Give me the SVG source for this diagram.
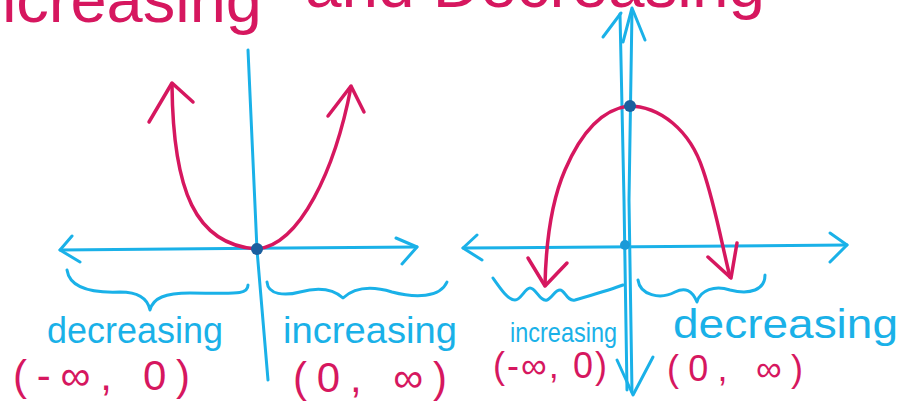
<svg xmlns="http://www.w3.org/2000/svg" width="905" height="406" viewBox="0 0 905 406">
<defs>
<style>
.ax{fill:none;stroke:#1ab1e8;stroke-width:3;stroke-linecap:round;stroke-linejoin:round}
.cv{fill:none;stroke:#d6175f;stroke-width:3.5;stroke-linecap:round;stroke-linejoin:round}
.tc{font-family:"Liberation Sans",Arial,sans-serif;fill:#1ab1e8}
.tm{font-family:"Liberation Sans",Arial,sans-serif;fill:#d6175f}
</style>
</defs>
<rect width="905" height="406" fill="#ffffff"/>
<g id="title">
<text class="tm" x="262" y="22" font-size="65" text-anchor="end">Increasing</text>
<text class="tm" x="305" y="7" font-size="65" textLength="460" lengthAdjust="spacingAndGlyphs">and Decreasing</text>
</g>
<g id="left-graph">
<g id="left-axes">
<path class="ax" d="M248,50 L257,250 L268,380"/>
<path class="ax" d="M60,250 L417,247"/>
<path class="ax" d="M72,236 L60,250 L80,262"/>
<path class="ax" d="M396,238 L417,247 L402,264"/>
</g>
<g id="left-parabola">
<path class="cv" d="M172,85 C173,190 195,245 257,249 C300,245 335,170 351,87"/>
<path class="cv" d="M149,122 L172,83 L193,102"/>
<path class="cv" d="M328,116 L351,86 L364,112"/>
</g>
<circle id="left-vertex" cx="257" cy="249" r="6" fill="#1b5f9f"/>
<g id="left-braces">
<path class="ax" d="M67,270 C70,290 95,293 120,292 C140,292 148,300 150,310 C153,298 165,293 190,293 C232,293 248,296 248,285"/>
<path class="ax" d="M267,282 C268,295 285,296 300,292 C315,288 332,288 343,298 C355,287 372,286 392,292 C415,298 440,298 447,282"/>
</g>
<g id="left-labels">
<text class="tc" x="47" y="343" font-size="36" textLength="176" lengthAdjust="spacingAndGlyphs">decreasing</text>
<text class="tc" x="283" y="343" font-size="36" textLength="174" lengthAdjust="spacingAndGlyphs">increasing</text>
<text class="tm" x="13" y="390" font-size="42" textLength="177" lengthAdjust="spacing">(-∞, 0)</text>
<text class="tm" x="293" y="392" font-size="42" textLength="154" lengthAdjust="spacing">(0, ∞)</text>
</g>
</g>
<g id="right-graph">
<g id="right-axes">
<path class="ax" d="M620,14 L624,200 L627,390"/>
<path class="ax" d="M632,10 L629,200 L632,392"/>
<path class="ax" d="M603,37 L621,13"/>
<path class="ax" d="M623,42 L632,8 L645,40"/>
<path class="ax" d="M617,360 L633,395 L653,357"/>
<path class="ax" d="M463,248 L847,245"/>
<path class="ax" d="M477,235 L463,248 L482,260"/>
<path class="ax" d="M830,233 L847,245 L830,262"/>
</g>
<g id="right-parabola">
<path class="cv" d="M545,285 C546,240 552,200 565,170 C580,135 600,110 628,106 C660,106 690,130 703,170 C715,205 722,245 730,277"/>
<path class="cv" d="M528,258 L545,286 L567,263"/>
<path class="cv" d="M708,257 L731,278 L737,243"/>
</g>
<circle id="right-vertex" cx="630" cy="106" r="6" fill="#1b5f9f"/>
<circle id="right-origin" cx="625" cy="245" r="5" fill="#1a9ad8"/>
<g id="right-braces">
<path class="ax" d="M493,278 C500,288 508,300 515,300 C521,300 525,288 530,288 C536,288 540,302 547,300 C552,298 555,290 560,290 C565,290 567,302 575,300 C592,295 610,290 623,285"/>
<path class="ax" d="M638,280 C640,295 660,300 675,292 C685,287 692,290 697,302 C700,290 715,285 730,290 C750,295 765,290 765,275"/>
</g>
<g id="right-labels">
<text class="tc" x="510" y="342" font-size="28" textLength="107" lengthAdjust="spacingAndGlyphs">increasing</text>
<text class="tc" x="673" y="338" font-size="40" textLength="225" lengthAdjust="spacingAndGlyphs">decreasing</text>
<text class="tm" x="493" y="378" font-size="36" textLength="114" lengthAdjust="spacing">(-∞, 0)</text>
<text class="tm" x="667" y="381" font-size="36" textLength="136" lengthAdjust="spacing">(0, ∞)</text>
</g>
</g>
</svg>
